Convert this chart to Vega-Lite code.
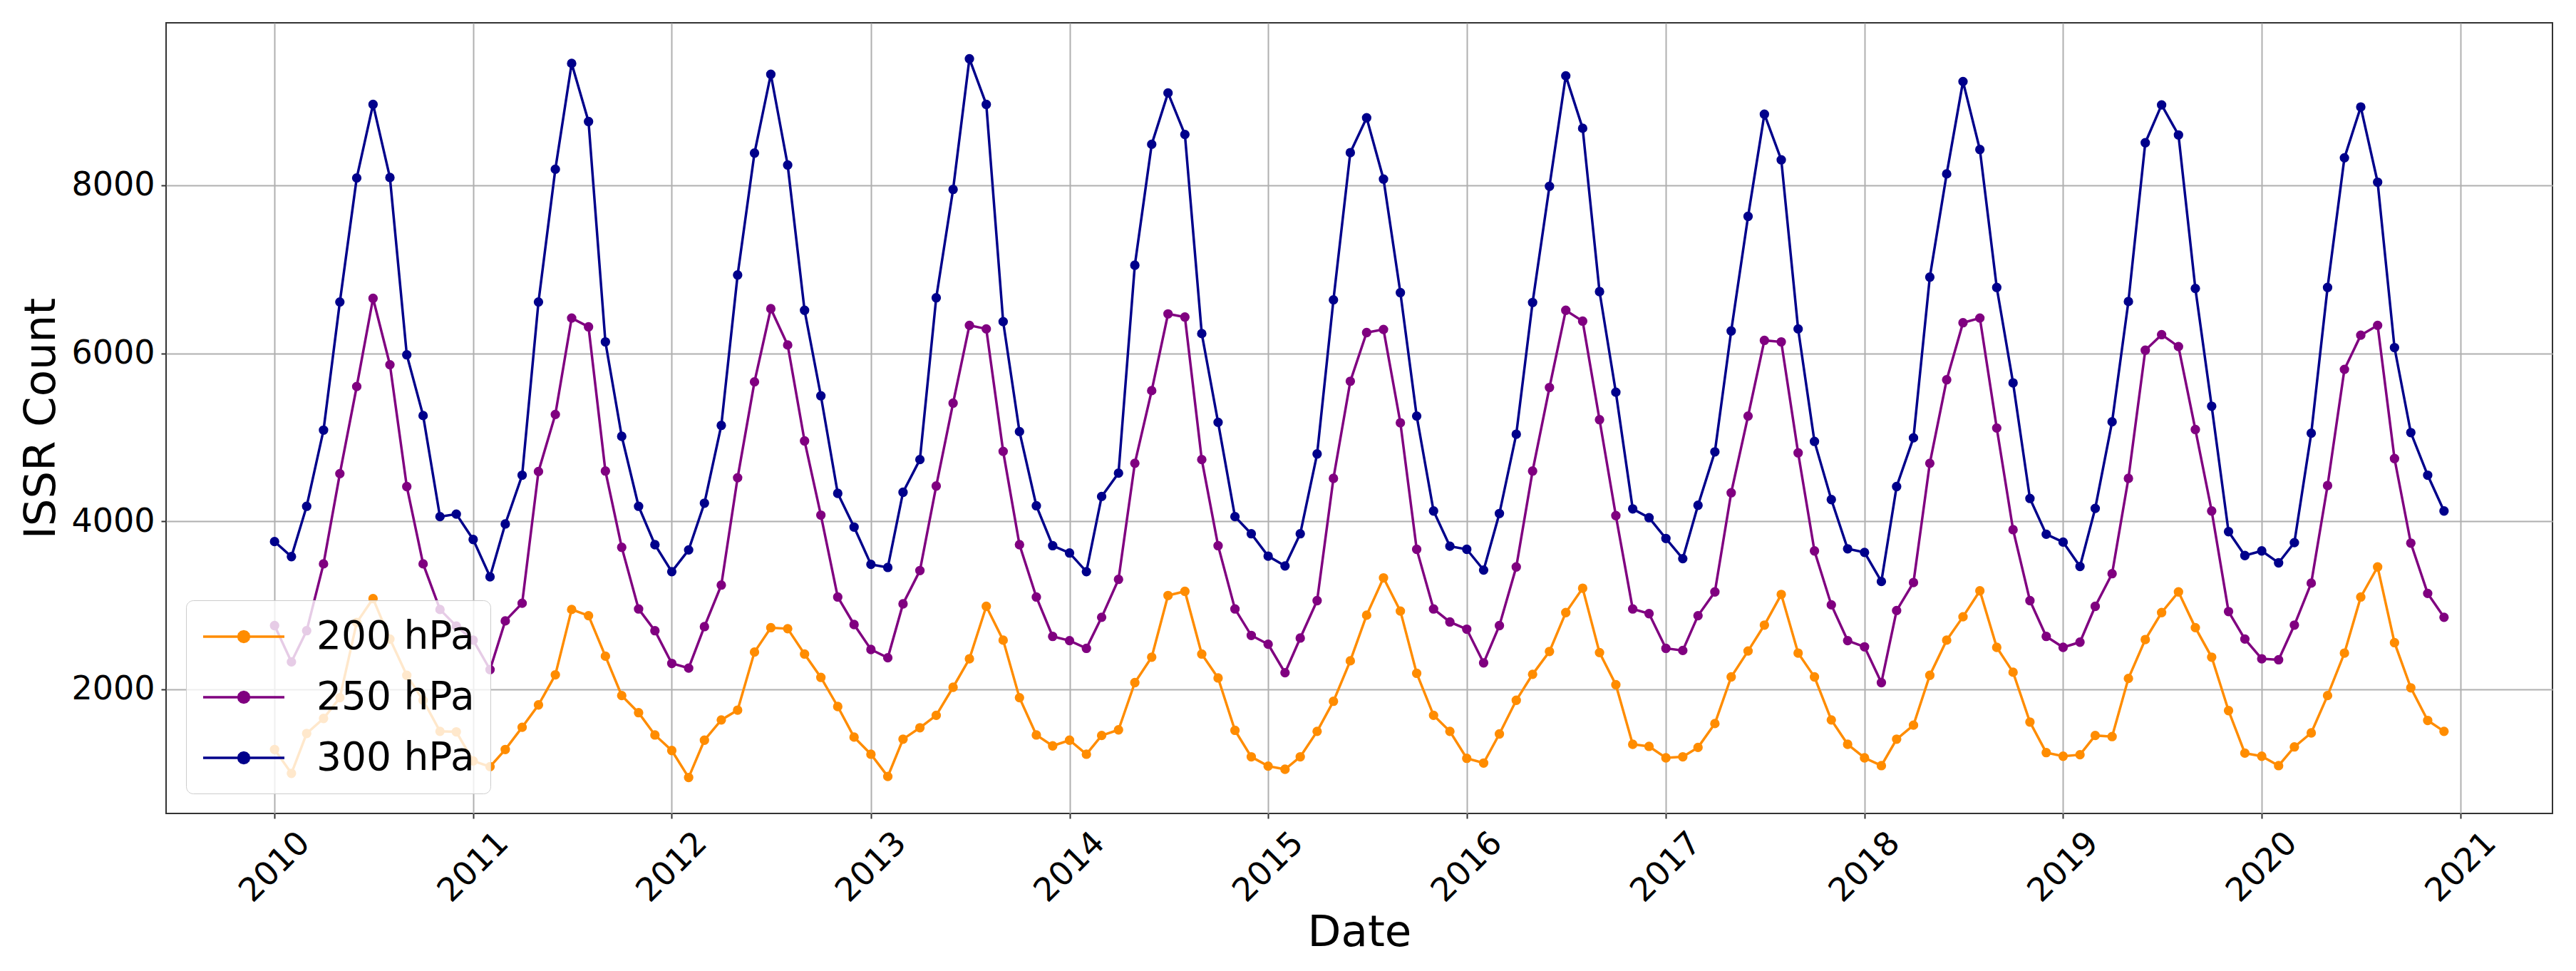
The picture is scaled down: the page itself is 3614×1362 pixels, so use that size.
{
  "$schema": "https://vega.github.io/schema/vega-lite/v6.json",
  "width": 3348,
  "height": 1109,
  "autosize": "none",
  "padding": {"left": 233, "top": 32, "right": 33, "bottom": 221},
  "background": "white",
  "config": {
    "view": {"stroke": "#333333", "strokeWidth": 2},
    "axis": {
      "labelFont": "DejaVu Sans",
      "labelFontSize": 46,
      "labelColor": "black",
      "titleFont": "DejaVu Sans",
      "titleFontSize": 61,
      "titleFontWeight": "normal",
      "titleColor": "black",
      "gridColor": "#b0b0b0",
      "gridWidth": 2,
      "tickColor": "#333333",
      "tickWidth": 2,
      "tickSize": 7,
      "domain": false
    }
  },
  "data": {
    "values": [
      {"date": "2010-01-01", "level": "200 hPa", "count": 1284},
      {"date": "2010-02-01", "level": "200 hPa", "count": 1000},
      {"date": "2010-03-01", "level": "200 hPa", "count": 1475},
      {"date": "2010-04-01", "level": "200 hPa", "count": 1654},
      {"date": "2010-05-01", "level": "200 hPa", "count": 1901},
      {"date": "2010-06-01", "level": "200 hPa", "count": 2796},
      {"date": "2010-07-01", "level": "200 hPa", "count": 3080},
      {"date": "2010-08-01", "level": "200 hPa", "count": 2599},
      {"date": "2010-09-01", "level": "200 hPa", "count": 2167},
      {"date": "2010-10-01", "level": "200 hPa", "count": 1870},
      {"date": "2010-11-01", "level": "200 hPa", "count": 1500},
      {"date": "2010-12-01", "level": "200 hPa", "count": 1494},
      {"date": "2011-01-01", "level": "200 hPa", "count": 1148},
      {"date": "2011-02-01", "level": "200 hPa", "count": 1080},
      {"date": "2011-03-01", "level": "200 hPa", "count": 1284},
      {"date": "2011-04-01", "level": "200 hPa", "count": 1549},
      {"date": "2011-05-01", "level": "200 hPa", "count": 1815},
      {"date": "2011-06-01", "level": "200 hPa", "count": 2173},
      {"date": "2011-07-01", "level": "200 hPa", "count": 2951},
      {"date": "2011-08-01", "level": "200 hPa", "count": 2877},
      {"date": "2011-09-01", "level": "200 hPa", "count": 2395},
      {"date": "2011-10-01", "level": "200 hPa", "count": 1926},
      {"date": "2011-11-01", "level": "200 hPa", "count": 1722},
      {"date": "2011-12-01", "level": "200 hPa", "count": 1457},
      {"date": "2012-01-01", "level": "200 hPa", "count": 1272},
      {"date": "2012-02-01", "level": "200 hPa", "count": 951},
      {"date": "2012-03-01", "level": "200 hPa", "count": 1395},
      {"date": "2012-04-01", "level": "200 hPa", "count": 1636},
      {"date": "2012-05-01", "level": "200 hPa", "count": 1753},
      {"date": "2012-06-01", "level": "200 hPa", "count": 2444},
      {"date": "2012-07-01", "level": "200 hPa", "count": 2734},
      {"date": "2012-08-01", "level": "200 hPa", "count": 2722},
      {"date": "2012-09-01", "level": "200 hPa", "count": 2420},
      {"date": "2012-10-01", "level": "200 hPa", "count": 2142},
      {"date": "2012-11-01", "level": "200 hPa", "count": 1796},
      {"date": "2012-12-01", "level": "200 hPa", "count": 1432},
      {"date": "2013-01-01", "level": "200 hPa", "count": 1228},
      {"date": "2013-02-01", "level": "200 hPa", "count": 963},
      {"date": "2013-03-01", "level": "200 hPa", "count": 1407},
      {"date": "2013-04-01", "level": "200 hPa", "count": 1543},
      {"date": "2013-05-01", "level": "200 hPa", "count": 1691},
      {"date": "2013-06-01", "level": "200 hPa", "count": 2025},
      {"date": "2013-07-01", "level": "200 hPa", "count": 2364},
      {"date": "2013-08-01", "level": "200 hPa", "count": 2988},
      {"date": "2013-09-01", "level": "200 hPa", "count": 2586},
      {"date": "2013-10-01", "level": "200 hPa", "count": 1901},
      {"date": "2013-11-01", "level": "200 hPa", "count": 1457},
      {"date": "2013-12-01", "level": "200 hPa", "count": 1327},
      {"date": "2014-01-01", "level": "200 hPa", "count": 1395},
      {"date": "2014-02-01", "level": "200 hPa", "count": 1228},
      {"date": "2014-03-01", "level": "200 hPa", "count": 1451},
      {"date": "2014-04-01", "level": "200 hPa", "count": 1518},
      {"date": "2014-05-01", "level": "200 hPa", "count": 2080},
      {"date": "2014-06-01", "level": "200 hPa", "count": 2383},
      {"date": "2014-07-01", "level": "200 hPa", "count": 3117},
      {"date": "2014-08-01", "level": "200 hPa", "count": 3167},
      {"date": "2014-09-01", "level": "200 hPa", "count": 2420},
      {"date": "2014-10-01", "level": "200 hPa", "count": 2136},
      {"date": "2014-11-01", "level": "200 hPa", "count": 1512},
      {"date": "2014-12-01", "level": "200 hPa", "count": 1197},
      {"date": "2015-01-01", "level": "200 hPa", "count": 1086},
      {"date": "2015-02-01", "level": "200 hPa", "count": 1049},
      {"date": "2015-03-01", "level": "200 hPa", "count": 1197},
      {"date": "2015-04-01", "level": "200 hPa", "count": 1500},
      {"date": "2015-05-01", "level": "200 hPa", "count": 1858},
      {"date": "2015-06-01", "level": "200 hPa", "count": 2340},
      {"date": "2015-07-01", "level": "200 hPa", "count": 2883},
      {"date": "2015-08-01", "level": "200 hPa", "count": 3327},
      {"date": "2015-09-01", "level": "200 hPa", "count": 2932},
      {"date": "2015-10-01", "level": "200 hPa", "count": 2191},
      {"date": "2015-11-01", "level": "200 hPa", "count": 1691},
      {"date": "2015-12-01", "level": "200 hPa", "count": 1500},
      {"date": "2016-01-01", "level": "200 hPa", "count": 1179},
      {"date": "2016-02-01", "level": "200 hPa", "count": 1123},
      {"date": "2016-03-01", "level": "200 hPa", "count": 1469},
      {"date": "2016-04-01", "level": "200 hPa", "count": 1870},
      {"date": "2016-05-01", "level": "200 hPa", "count": 2179},
      {"date": "2016-06-01", "level": "200 hPa", "count": 2451},
      {"date": "2016-07-01", "level": "200 hPa", "count": 2914},
      {"date": "2016-08-01", "level": "200 hPa", "count": 3204},
      {"date": "2016-09-01", "level": "200 hPa", "count": 2438},
      {"date": "2016-10-01", "level": "200 hPa", "count": 2055},
      {"date": "2016-11-01", "level": "200 hPa", "count": 1346},
      {"date": "2016-12-01", "level": "200 hPa", "count": 1321},
      {"date": "2017-01-01", "level": "200 hPa", "count": 1185},
      {"date": "2017-02-01", "level": "200 hPa", "count": 1197},
      {"date": "2017-03-01", "level": "200 hPa", "count": 1309},
      {"date": "2017-04-01", "level": "200 hPa", "count": 1593},
      {"date": "2017-05-01", "level": "200 hPa", "count": 2148},
      {"date": "2017-06-01", "level": "200 hPa", "count": 2457},
      {"date": "2017-07-01", "level": "200 hPa", "count": 2765},
      {"date": "2017-08-01", "level": "200 hPa", "count": 3130},
      {"date": "2017-09-01", "level": "200 hPa", "count": 2432},
      {"date": "2017-10-01", "level": "200 hPa", "count": 2148},
      {"date": "2017-11-01", "level": "200 hPa", "count": 1636},
      {"date": "2017-12-01", "level": "200 hPa", "count": 1346},
      {"date": "2018-01-01", "level": "200 hPa", "count": 1185},
      {"date": "2018-02-01", "level": "200 hPa", "count": 1092},
      {"date": "2018-03-01", "level": "200 hPa", "count": 1407},
      {"date": "2018-04-01", "level": "200 hPa", "count": 1574},
      {"date": "2018-05-01", "level": "200 hPa", "count": 2167},
      {"date": "2018-06-01", "level": "200 hPa", "count": 2586},
      {"date": "2018-07-01", "level": "200 hPa", "count": 2864},
      {"date": "2018-08-01", "level": "200 hPa", "count": 3173},
      {"date": "2018-09-01", "level": "200 hPa", "count": 2500},
      {"date": "2018-10-01", "level": "200 hPa", "count": 2204},
      {"date": "2018-11-01", "level": "200 hPa", "count": 1611},
      {"date": "2018-12-01", "level": "200 hPa", "count": 1247},
      {"date": "2019-01-01", "level": "200 hPa", "count": 1204},
      {"date": "2019-02-01", "level": "200 hPa", "count": 1222},
      {"date": "2019-03-01", "level": "200 hPa", "count": 1451},
      {"date": "2019-04-01", "level": "200 hPa", "count": 1438},
      {"date": "2019-05-01", "level": "200 hPa", "count": 2130},
      {"date": "2019-06-01", "level": "200 hPa", "count": 2593},
      {"date": "2019-07-01", "level": "200 hPa", "count": 2914},
      {"date": "2019-08-01", "level": "200 hPa", "count": 3160},
      {"date": "2019-09-01", "level": "200 hPa", "count": 2735},
      {"date": "2019-10-01", "level": "200 hPa", "count": 2383},
      {"date": "2019-11-01", "level": "200 hPa", "count": 1747},
      {"date": "2019-12-01", "level": "200 hPa", "count": 1241},
      {"date": "2020-01-01", "level": "200 hPa", "count": 1204},
      {"date": "2020-02-01", "level": "200 hPa", "count": 1092},
      {"date": "2020-03-01", "level": "200 hPa", "count": 1315},
      {"date": "2020-04-01", "level": "200 hPa", "count": 1482},
      {"date": "2020-05-01", "level": "200 hPa", "count": 1926},
      {"date": "2020-06-01", "level": "200 hPa", "count": 2432},
      {"date": "2020-07-01", "level": "200 hPa", "count": 3099},
      {"date": "2020-08-01", "level": "200 hPa", "count": 3457},
      {"date": "2020-09-01", "level": "200 hPa", "count": 2556},
      {"date": "2020-10-01", "level": "200 hPa", "count": 2018},
      {"date": "2020-11-01", "level": "200 hPa", "count": 1630},
      {"date": "2020-12-01", "level": "200 hPa", "count": 1500},
      {"date": "2010-01-01", "level": "250 hPa", "count": 2759},
      {"date": "2010-02-01", "level": "250 hPa", "count": 2327},
      {"date": "2010-03-01", "level": "250 hPa", "count": 2698},
      {"date": "2010-04-01", "level": "250 hPa", "count": 3494},
      {"date": "2010-05-01", "level": "250 hPa", "count": 4568},
      {"date": "2010-06-01", "level": "250 hPa", "count": 5605},
      {"date": "2010-07-01", "level": "250 hPa", "count": 6654},
      {"date": "2010-08-01", "level": "250 hPa", "count": 5864},
      {"date": "2010-09-01", "level": "250 hPa", "count": 4414},
      {"date": "2010-10-01", "level": "250 hPa", "count": 3494},
      {"date": "2010-11-01", "level": "250 hPa", "count": 2951},
      {"date": "2010-12-01", "level": "250 hPa", "count": 2753},
      {"date": "2011-01-01", "level": "250 hPa", "count": 2586},
      {"date": "2011-02-01", "level": "250 hPa", "count": 2235},
      {"date": "2011-03-01", "level": "250 hPa", "count": 2815},
      {"date": "2011-04-01", "level": "250 hPa", "count": 3025},
      {"date": "2011-05-01", "level": "250 hPa", "count": 4593},
      {"date": "2011-06-01", "level": "250 hPa", "count": 5272},
      {"date": "2011-07-01", "level": "250 hPa", "count": 6420},
      {"date": "2011-08-01", "level": "250 hPa", "count": 6315},
      {"date": "2011-09-01", "level": "250 hPa", "count": 4599},
      {"date": "2011-10-01", "level": "250 hPa", "count": 3691},
      {"date": "2011-11-01", "level": "250 hPa", "count": 2957},
      {"date": "2011-12-01", "level": "250 hPa", "count": 2698},
      {"date": "2012-01-01", "level": "250 hPa", "count": 2309},
      {"date": "2012-02-01", "level": "250 hPa", "count": 2253},
      {"date": "2012-03-01", "level": "250 hPa", "count": 2747},
      {"date": "2012-04-01", "level": "250 hPa", "count": 3241},
      {"date": "2012-05-01", "level": "250 hPa", "count": 4519},
      {"date": "2012-06-01", "level": "250 hPa", "count": 5660},
      {"date": "2012-07-01", "level": "250 hPa", "count": 6531},
      {"date": "2012-08-01", "level": "250 hPa", "count": 6099},
      {"date": "2012-09-01", "level": "250 hPa", "count": 4957},
      {"date": "2012-10-01", "level": "250 hPa", "count": 4074},
      {"date": "2012-11-01", "level": "250 hPa", "count": 3099},
      {"date": "2012-12-01", "level": "250 hPa", "count": 2772},
      {"date": "2013-01-01", "level": "250 hPa", "count": 2475},
      {"date": "2013-02-01", "level": "250 hPa", "count": 2376},
      {"date": "2013-03-01", "level": "250 hPa", "count": 3018},
      {"date": "2013-04-01", "level": "250 hPa", "count": 3414},
      {"date": "2013-05-01", "level": "250 hPa", "count": 4420},
      {"date": "2013-06-01", "level": "250 hPa", "count": 5407},
      {"date": "2013-07-01", "level": "250 hPa", "count": 6333},
      {"date": "2013-08-01", "level": "250 hPa", "count": 6290},
      {"date": "2013-09-01", "level": "250 hPa", "count": 4833},
      {"date": "2013-10-01", "level": "250 hPa", "count": 3722},
      {"date": "2013-11-01", "level": "250 hPa", "count": 3099},
      {"date": "2013-12-01", "level": "250 hPa", "count": 2630},
      {"date": "2014-01-01", "level": "250 hPa", "count": 2580},
      {"date": "2014-02-01", "level": "250 hPa", "count": 2488},
      {"date": "2014-03-01", "level": "250 hPa", "count": 2858},
      {"date": "2014-04-01", "level": "250 hPa", "count": 3309},
      {"date": "2014-05-01", "level": "250 hPa", "count": 4691},
      {"date": "2014-06-01", "level": "250 hPa", "count": 5556},
      {"date": "2014-07-01", "level": "250 hPa", "count": 6469},
      {"date": "2014-08-01", "level": "250 hPa", "count": 6432},
      {"date": "2014-09-01", "level": "250 hPa", "count": 4735},
      {"date": "2014-10-01", "level": "250 hPa", "count": 3710},
      {"date": "2014-11-01", "level": "250 hPa", "count": 2957},
      {"date": "2014-12-01", "level": "250 hPa", "count": 2642},
      {"date": "2015-01-01", "level": "250 hPa", "count": 2537},
      {"date": "2015-02-01", "level": "250 hPa", "count": 2198},
      {"date": "2015-03-01", "level": "250 hPa", "count": 2611},
      {"date": "2015-04-01", "level": "250 hPa", "count": 3056},
      {"date": "2015-05-01", "level": "250 hPa", "count": 4512},
      {"date": "2015-06-01", "level": "250 hPa", "count": 5667},
      {"date": "2015-07-01", "level": "250 hPa", "count": 6247},
      {"date": "2015-08-01", "level": "250 hPa", "count": 6284},
      {"date": "2015-09-01", "level": "250 hPa", "count": 5173},
      {"date": "2015-10-01", "level": "250 hPa", "count": 3667},
      {"date": "2015-11-01", "level": "250 hPa", "count": 2957},
      {"date": "2015-12-01", "level": "250 hPa", "count": 2802},
      {"date": "2016-01-01", "level": "250 hPa", "count": 2716},
      {"date": "2016-02-01", "level": "250 hPa", "count": 2315},
      {"date": "2016-03-01", "level": "250 hPa", "count": 2759},
      {"date": "2016-04-01", "level": "250 hPa", "count": 3457},
      {"date": "2016-05-01", "level": "250 hPa", "count": 4599},
      {"date": "2016-06-01", "level": "250 hPa", "count": 5593},
      {"date": "2016-07-01", "level": "250 hPa", "count": 6512},
      {"date": "2016-08-01", "level": "250 hPa", "count": 6383},
      {"date": "2016-09-01", "level": "250 hPa", "count": 5210},
      {"date": "2016-10-01", "level": "250 hPa", "count": 4068},
      {"date": "2016-11-01", "level": "250 hPa", "count": 2957},
      {"date": "2016-12-01", "level": "250 hPa", "count": 2901},
      {"date": "2017-01-01", "level": "250 hPa", "count": 2488},
      {"date": "2017-02-01", "level": "250 hPa", "count": 2463},
      {"date": "2017-03-01", "level": "250 hPa", "count": 2877},
      {"date": "2017-04-01", "level": "250 hPa", "count": 3160},
      {"date": "2017-05-01", "level": "250 hPa", "count": 4340},
      {"date": "2017-06-01", "level": "250 hPa", "count": 5253},
      {"date": "2017-07-01", "level": "250 hPa", "count": 6154},
      {"date": "2017-08-01", "level": "250 hPa", "count": 6136},
      {"date": "2017-09-01", "level": "250 hPa", "count": 4815},
      {"date": "2017-10-01", "level": "250 hPa", "count": 3648},
      {"date": "2017-11-01", "level": "250 hPa", "count": 3006},
      {"date": "2017-12-01", "level": "250 hPa", "count": 2580},
      {"date": "2018-01-01", "level": "250 hPa", "count": 2506},
      {"date": "2018-02-01", "level": "250 hPa", "count": 2080},
      {"date": "2018-03-01", "level": "250 hPa", "count": 2938},
      {"date": "2018-04-01", "level": "250 hPa", "count": 3272},
      {"date": "2018-05-01", "level": "250 hPa", "count": 4691},
      {"date": "2018-06-01", "level": "250 hPa", "count": 5685},
      {"date": "2018-07-01", "level": "250 hPa", "count": 6364},
      {"date": "2018-08-01", "level": "250 hPa", "count": 6420},
      {"date": "2018-09-01", "level": "250 hPa", "count": 5111},
      {"date": "2018-10-01", "level": "250 hPa", "count": 3901},
      {"date": "2018-11-01", "level": "250 hPa", "count": 3056},
      {"date": "2018-12-01", "level": "250 hPa", "count": 2630},
      {"date": "2019-01-01", "level": "250 hPa", "count": 2500},
      {"date": "2019-02-01", "level": "250 hPa", "count": 2562},
      {"date": "2019-03-01", "level": "250 hPa", "count": 2988},
      {"date": "2019-04-01", "level": "250 hPa", "count": 3377},
      {"date": "2019-05-01", "level": "250 hPa", "count": 4512},
      {"date": "2019-06-01", "level": "250 hPa", "count": 6037},
      {"date": "2019-07-01", "level": "250 hPa", "count": 6222},
      {"date": "2019-08-01", "level": "250 hPa", "count": 6080},
      {"date": "2019-09-01", "level": "250 hPa", "count": 5093},
      {"date": "2019-10-01", "level": "250 hPa", "count": 4123},
      {"date": "2019-11-01", "level": "250 hPa", "count": 2926},
      {"date": "2019-12-01", "level": "250 hPa", "count": 2599},
      {"date": "2020-01-01", "level": "250 hPa", "count": 2364},
      {"date": "2020-02-01", "level": "250 hPa", "count": 2352},
      {"date": "2020-03-01", "level": "250 hPa", "count": 2765},
      {"date": "2020-04-01", "level": "250 hPa", "count": 3265},
      {"date": "2020-05-01", "level": "250 hPa", "count": 4426},
      {"date": "2020-06-01", "level": "250 hPa", "count": 5809},
      {"date": "2020-07-01", "level": "250 hPa", "count": 6216},
      {"date": "2020-08-01", "level": "250 hPa", "count": 6333},
      {"date": "2020-09-01", "level": "250 hPa", "count": 4747},
      {"date": "2020-10-01", "level": "250 hPa", "count": 3741},
      {"date": "2020-11-01", "level": "250 hPa", "count": 3142},
      {"date": "2020-12-01", "level": "250 hPa", "count": 2858},
      {"date": "2010-01-01", "level": "300 hPa", "count": 3759},
      {"date": "2010-02-01", "level": "300 hPa", "count": 3580},
      {"date": "2010-03-01", "level": "300 hPa", "count": 4179},
      {"date": "2010-04-01", "level": "300 hPa", "count": 5086},
      {"date": "2010-05-01", "level": "300 hPa", "count": 6611},
      {"date": "2010-06-01", "level": "300 hPa", "count": 8087},
      {"date": "2010-07-01", "level": "300 hPa", "count": 8963},
      {"date": "2010-08-01", "level": "300 hPa", "count": 8093},
      {"date": "2010-09-01", "level": "300 hPa", "count": 5982},
      {"date": "2010-10-01", "level": "300 hPa", "count": 5259},
      {"date": "2010-11-01", "level": "300 hPa", "count": 4056},
      {"date": "2010-12-01", "level": "300 hPa", "count": 4086},
      {"date": "2011-01-01", "level": "300 hPa", "count": 3784},
      {"date": "2011-02-01", "level": "300 hPa", "count": 3340},
      {"date": "2011-03-01", "level": "300 hPa", "count": 3969},
      {"date": "2011-04-01", "level": "300 hPa", "count": 4549},
      {"date": "2011-05-01", "level": "300 hPa", "count": 6611},
      {"date": "2011-06-01", "level": "300 hPa", "count": 8191},
      {"date": "2011-07-01", "level": "300 hPa", "count": 9451},
      {"date": "2011-08-01", "level": "300 hPa", "count": 8759},
      {"date": "2011-09-01", "level": "300 hPa", "count": 6136},
      {"date": "2011-10-01", "level": "300 hPa", "count": 5012},
      {"date": "2011-11-01", "level": "300 hPa", "count": 4179},
      {"date": "2011-12-01", "level": "300 hPa", "count": 3722},
      {"date": "2012-01-01", "level": "300 hPa", "count": 3401},
      {"date": "2012-02-01", "level": "300 hPa", "count": 3660},
      {"date": "2012-03-01", "level": "300 hPa", "count": 4216},
      {"date": "2012-04-01", "level": "300 hPa", "count": 5142},
      {"date": "2012-05-01", "level": "300 hPa", "count": 6932},
      {"date": "2012-06-01", "level": "300 hPa", "count": 8383},
      {"date": "2012-07-01", "level": "300 hPa", "count": 9321},
      {"date": "2012-08-01", "level": "300 hPa", "count": 8241},
      {"date": "2012-09-01", "level": "300 hPa", "count": 6512},
      {"date": "2012-10-01", "level": "300 hPa", "count": 5494},
      {"date": "2012-11-01", "level": "300 hPa", "count": 4333},
      {"date": "2012-12-01", "level": "300 hPa", "count": 3932},
      {"date": "2013-01-01", "level": "300 hPa", "count": 3488},
      {"date": "2013-02-01", "level": "300 hPa", "count": 3451},
      {"date": "2013-03-01", "level": "300 hPa", "count": 4346},
      {"date": "2013-04-01", "level": "300 hPa", "count": 4735},
      {"date": "2013-05-01", "level": "300 hPa", "count": 6661},
      {"date": "2013-06-01", "level": "300 hPa", "count": 7951},
      {"date": "2013-07-01", "level": "300 hPa", "count": 9506},
      {"date": "2013-08-01", "level": "300 hPa", "count": 8963},
      {"date": "2013-09-01", "level": "300 hPa", "count": 6377},
      {"date": "2013-10-01", "level": "300 hPa", "count": 5068},
      {"date": "2013-11-01", "level": "300 hPa", "count": 4185},
      {"date": "2013-12-01", "level": "300 hPa", "count": 3710},
      {"date": "2014-01-01", "level": "300 hPa", "count": 3623},
      {"date": "2014-02-01", "level": "300 hPa", "count": 3401},
      {"date": "2014-03-01", "level": "300 hPa", "count": 4296},
      {"date": "2014-04-01", "level": "300 hPa", "count": 4574},
      {"date": "2014-05-01", "level": "300 hPa", "count": 7049},
      {"date": "2014-06-01", "level": "300 hPa", "count": 8488},
      {"date": "2014-07-01", "level": "300 hPa", "count": 9099},
      {"date": "2014-08-01", "level": "300 hPa", "count": 8605},
      {"date": "2014-09-01", "level": "300 hPa", "count": 6235},
      {"date": "2014-10-01", "level": "300 hPa", "count": 5179},
      {"date": "2014-11-01", "level": "300 hPa", "count": 4056},
      {"date": "2014-12-01", "level": "300 hPa", "count": 3852},
      {"date": "2015-01-01", "level": "300 hPa", "count": 3586},
      {"date": "2015-02-01", "level": "300 hPa", "count": 3469},
      {"date": "2015-03-01", "level": "300 hPa", "count": 3852},
      {"date": "2015-04-01", "level": "300 hPa", "count": 4802},
      {"date": "2015-05-01", "level": "300 hPa", "count": 6636},
      {"date": "2015-06-01", "level": "300 hPa", "count": 8389},
      {"date": "2015-07-01", "level": "300 hPa", "count": 8803},
      {"date": "2015-08-01", "level": "300 hPa", "count": 8074},
      {"date": "2015-09-01", "level": "300 hPa", "count": 6722},
      {"date": "2015-10-01", "level": "300 hPa", "count": 5253},
      {"date": "2015-11-01", "level": "300 hPa", "count": 4123},
      {"date": "2015-12-01", "level": "300 hPa", "count": 3704},
      {"date": "2016-01-01", "level": "300 hPa", "count": 3667},
      {"date": "2016-02-01", "level": "300 hPa", "count": 3420},
      {"date": "2016-03-01", "level": "300 hPa", "count": 4093},
      {"date": "2016-04-01", "level": "300 hPa", "count": 5037},
      {"date": "2016-05-01", "level": "300 hPa", "count": 6605},
      {"date": "2016-06-01", "level": "300 hPa", "count": 7988},
      {"date": "2016-07-01", "level": "300 hPa", "count": 9303},
      {"date": "2016-08-01", "level": "300 hPa", "count": 8679},
      {"date": "2016-09-01", "level": "300 hPa", "count": 6735},
      {"date": "2016-10-01", "level": "300 hPa", "count": 5537},
      {"date": "2016-11-01", "level": "300 hPa", "count": 4148},
      {"date": "2016-12-01", "level": "300 hPa", "count": 4043},
      {"date": "2017-01-01", "level": "300 hPa", "count": 3796},
      {"date": "2017-02-01", "level": "300 hPa", "count": 3556},
      {"date": "2017-03-01", "level": "300 hPa", "count": 4191},
      {"date": "2017-04-01", "level": "300 hPa", "count": 4827},
      {"date": "2017-05-01", "level": "300 hPa", "count": 6266},
      {"date": "2017-06-01", "level": "300 hPa", "count": 7630},
      {"date": "2017-07-01", "level": "300 hPa", "count": 8846},
      {"date": "2017-08-01", "level": "300 hPa", "count": 8303},
      {"date": "2017-09-01", "level": "300 hPa", "count": 6290},
      {"date": "2017-10-01", "level": "300 hPa", "count": 4951},
      {"date": "2017-11-01", "level": "300 hPa", "count": 4259},
      {"date": "2017-12-01", "level": "300 hPa", "count": 3673},
      {"date": "2018-01-01", "level": "300 hPa", "count": 3630},
      {"date": "2018-02-01", "level": "300 hPa", "count": 3284},
      {"date": "2018-03-01", "level": "300 hPa", "count": 4414},
      {"date": "2018-04-01", "level": "300 hPa", "count": 4994},
      {"date": "2018-05-01", "level": "300 hPa", "count": 6907},
      {"date": "2018-06-01", "level": "300 hPa", "count": 8136},
      {"date": "2018-07-01", "level": "300 hPa", "count": 9235},
      {"date": "2018-08-01", "level": "300 hPa", "count": 8426},
      {"date": "2018-09-01", "level": "300 hPa", "count": 6784},
      {"date": "2018-10-01", "level": "300 hPa", "count": 5648},
      {"date": "2018-11-01", "level": "300 hPa", "count": 4272},
      {"date": "2018-12-01", "level": "300 hPa", "count": 3846},
      {"date": "2019-01-01", "level": "300 hPa", "count": 3753},
      {"date": "2019-02-01", "level": "300 hPa", "count": 3463},
      {"date": "2019-03-01", "level": "300 hPa", "count": 4154},
      {"date": "2019-04-01", "level": "300 hPa", "count": 5185},
      {"date": "2019-05-01", "level": "300 hPa", "count": 6617},
      {"date": "2019-06-01", "level": "300 hPa", "count": 8506},
      {"date": "2019-07-01", "level": "300 hPa", "count": 8957},
      {"date": "2019-08-01", "level": "300 hPa", "count": 8599},
      {"date": "2019-09-01", "level": "300 hPa", "count": 6772},
      {"date": "2019-10-01", "level": "300 hPa", "count": 5370},
      {"date": "2019-11-01", "level": "300 hPa", "count": 3877},
      {"date": "2019-12-01", "level": "300 hPa", "count": 3593},
      {"date": "2020-01-01", "level": "300 hPa", "count": 3648},
      {"date": "2020-02-01", "level": "300 hPa", "count": 3506},
      {"date": "2020-03-01", "level": "300 hPa", "count": 3747},
      {"date": "2020-04-01", "level": "300 hPa", "count": 5049},
      {"date": "2020-05-01", "level": "300 hPa", "count": 6784},
      {"date": "2020-06-01", "level": "300 hPa", "count": 8327},
      {"date": "2020-07-01", "level": "300 hPa", "count": 8932},
      {"date": "2020-08-01", "level": "300 hPa", "count": 8037},
      {"date": "2020-09-01", "level": "300 hPa", "count": 6068},
      {"date": "2020-10-01", "level": "300 hPa", "count": 5056},
      {"date": "2020-11-01", "level": "300 hPa", "count": 4549},
      {"date": "2020-12-01", "level": "300 hPa", "count": 4123}
    ]
  },
  "encoding": {
    "x": {
      "field": "date",
      "type": "temporal",
      "title": "Date",
      "scale": {
        "type": "utc",
        "nice": false,
        "domain": [
          {"year": 2009, "month": 6, "date": 15, "hours": 15, "utc": true},
          {"year": 2021, "month": 6, "date": 18, "hours": 8, "utc": true}
        ]
      },
      "axis": {
        "tickCount": "year",
        "format": "%Y",
        "formatType": "utc",
        "labelAngle": -45,
        "labelAlign": "center",
        "labelBaseline": "middle",
        "labelPadding": 68,
        "labelFlush": false,
        "labelOverlap": false,
        "titlePadding": 5
      }
    },
    "y": {
      "field": "count",
      "type": "quantitative",
      "title": "ISSR Count",
      "scale": {"domain": [523, 9934], "nice": false, "zero": false},
      "axis": {
        "values": [2000, 4000, 6000, 8000],
        "format": "d",
        "labelPadding": 9,
        "titlePadding": 10
      }
    },
    "color": {
      "field": "level",
      "type": "nominal",
      "scale": {
        "domain": ["200 hPa", "250 hPa", "300 hPa"],
        "range": ["#ff8c00", "#800080", "#00008b"]
      },
      "legend": {
        "title": null,
        "orient": "bottom-left",
        "offset": 28,
        "padding": 22,
        "fillColor": "rgba(255,255,255,0.8)",
        "strokeColor": "#cccccc",
        "cornerRadius": 10,
        "labelFont": "DejaVu Sans",
        "labelFontSize": 55,
        "labelColor": "black",
        "labelLimit": 600,
        "labelOffset": 103,
        "rowPadding": 28,
        "symbolSize": 2916,
        "symbolStrokeWidth": 3.5,
        "symbolType": "M-1,0L3.222,0M1.389,0L1.352,0.139L1.25,0.241L1.111,0.278L0.972,0.241L0.87,0.139L0.833,0L0.87,-0.139L0.972,-0.241L1.111,-0.278L1.25,-0.241L1.352,-0.139Z",
        "encode": {
          "symbols": {
            "update": {
              "fill": {"scale": "color", "field": "value"},
              "stroke": {"scale": "color", "field": "value"},
              "opacity": {"value": 1}
            }
          }
        }
      }
    }
  },
  "layer": [
    {"mark": {"type": "line", "strokeWidth": 3.5}},
    {"mark": {"type": "point", "filled": true, "size": 177, "opacity": 1}}
  ]
}
